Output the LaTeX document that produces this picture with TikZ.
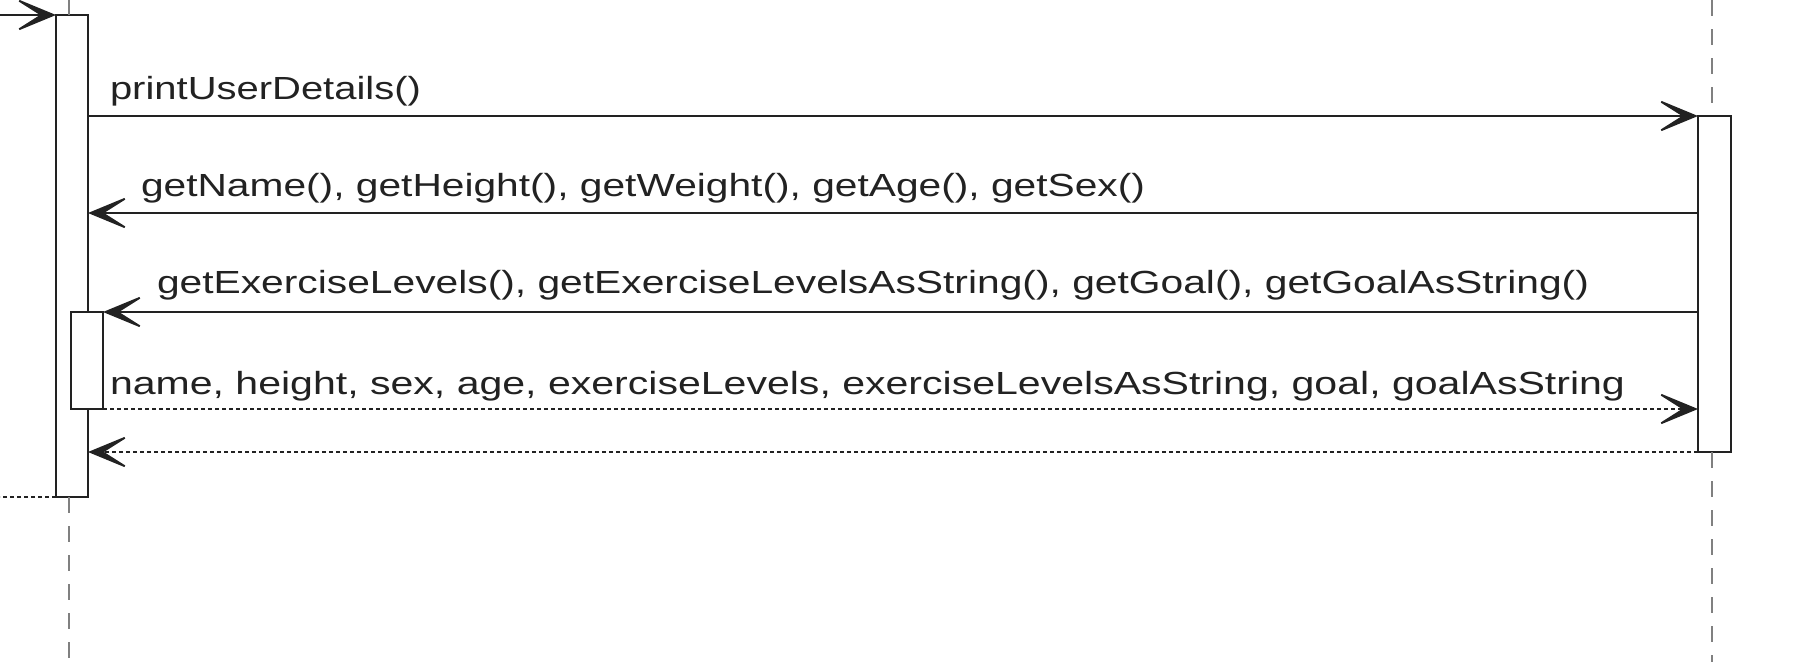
\documentclass[tikz,border=0pt]{standalone}
\usepackage{fontspec}
\setmainfont{Liberation Sans}
\usepackage{graphicx}
\usetikzlibrary{arrows.meta}
\newlength\lblw
\newcommand\fitto[2]{\settowidth\lblw{#2}\pgfmathsetmacro\lblsx{#1/\lblw}\scalebox{\lblsx}[1]{#2}}
\definecolor{ink}{RGB}{34,34,34}
\tikzset{
  act/.style={draw=ink, fill=white, line width=2pt, minimum width=32pt, inner sep=0pt, outer sep=0pt},
  msg/.style={draw=ink, line width=2pt, -{Stealth[length=46pt, width=38pt, inset=30pt, line width=1.8pt]}},
  ret/.style={msg, dash pattern=on 4pt off 3pt},
  retline/.style={draw=ink, line width=2pt, dash pattern=on 4pt off 3pt},
  life/.style={draw=gray, line width=1.7pt, dash pattern=on 16pt off 13pt},
  lbl/.style={anchor=base west, inner sep=0pt, outer sep=0pt, text=ink, font=\fontsize{32}{38}\selectfont}
}
\begin{document}
\begin{tikzpicture}[x=1pt, y=1pt]
\useasboundingbox (0,0) rectangle (1814,-662);
% lifelines
\coordinate (lt) at (69,0);
\coordinate (lb) at (69,-662);
\coordinate (rt) at (1712,0);
\coordinate (rb) at (1712,-662);
% activation boxes
\node[act, minimum height=482pt] (L) at (72,-256) {};
\node[act, minimum height=336pt, minimum width=33pt] (R) at (1714.5,-284) {};
\draw[life] (lt) -- (lt |- L.north);
\draw[life] (lt |- L.south) -- (lb);
\draw[life] (rt) -- (rt |- R.north);
\draw[life] (rt |- R.south) -- (rb);
\node[act, minimum height=97pt] (I) at (87,-360.5) {};
% message levels
\coordinate (start) at (0,-15);
\coordinate (endl) at (0,-497);
\coordinate (m2) at (0,-213);
% connectors
\draw[msg] (start) -- (L.north west);
\draw[msg] (L.east |- R.north) -- (R.north west);
\draw[msg] (R.west |- m2) -- (L.east |- m2);
\draw[msg] (R.west |- I.north) -- (I.north east);
\draw[ret] (I.south east) -- (R.west |- I.south);
\draw[ret] (R.south west) -- (L.east |- R.south);
\draw[retline] (L.south west) -- (endl);
% labels
\node[lbl] (t1) at (110,-99) {\fitto{311}{printUserDetails()}};
\node[lbl] (t2) at (141,-196) {\fitto{1004}{getName(), getHeight(), getWeight(), getAge(), getSex()}};
\node[lbl] (t3) at (157,-293) {\fitto{1432}{getExerciseLevels(), getExerciseLevelsAsString(), getGoal(), getGoalAsString()}};
\node[lbl] (t4) at (110,-394) {\fitto{1515}{name, height, sex, age, exerciseLevels, exerciseLevelsAsString, goal, goalAsString}};
\end{tikzpicture}
\end{document}
